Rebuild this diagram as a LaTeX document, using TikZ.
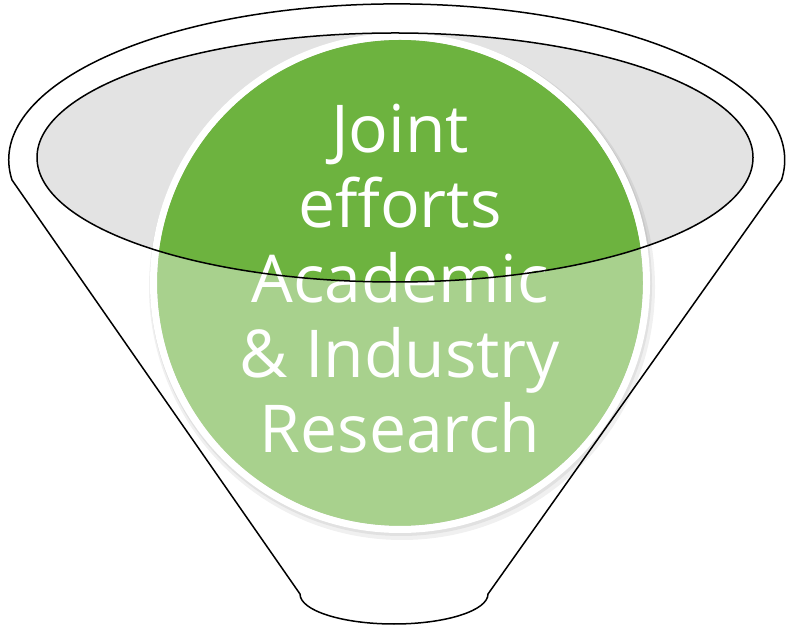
\documentclass[tikz,border=0pt]{standalone}
\usepackage{fontspec}
\setmainfont{Open Sans}
\definecolor{darkgreen}{HTML}{6DB33F}
\definecolor{lightgreen}{HTML}{A8D18D}
\definecolor{bowlgray}{HTML}{E3E3E3}
\tikzset{
  outline/.style={draw=black, line width=1.5pt},
  label/.style={text=white, font=\fontsize{66}{75}\selectfont, anchor=base, inner sep=0pt},
}
\begin{document}
\begin{tikzpicture}[x=1pt,y=1pt]
\useasboundingbox (0,0) rectangle (786,626);
% funnel body
\draw[outline, fill=white] (12,446) arc[start angle=187.4, end angle=-7.4, x radius=388, y radius=156]
  -- (488,32) arc[start angle=0, end angle=-180, x radius=94, y radius=30] -- cycle;
% inner rim
\fill[bowlgray] (395,468.5) ellipse[x radius=358, y radius=124.5];
% circle shadow
\fill[black, opacity=0.06] (402,339) circle[radius=253];
\fill[black, opacity=0.06] (401,341) circle[radius=251];
% circle
\fill[lightgreen] (400,343) circle[radius=243];
\draw[white, line width=7pt] (400,343) circle[radius=246.5];
\begin{scope}
  \clip (395,468.5) ellipse[x radius=358, y radius=124.5];
  \fill[darkgreen] (400,343) circle[radius=243];
\end{scope}
% text
\node[label] (t1) at (400,473) {Joint};
\node[label] (t2) at (400,398) {efforts};
\node[label] (t3) at (400,323) {Academic};
\node[label] (t4) at (400,248) {\& Industry};
\node[label] (t5) at (400,173) {Research};
% inner rim outline
\draw[outline] (395,468.5) ellipse[x radius=358, y radius=124.5];
\end{tikzpicture}
\end{document}
